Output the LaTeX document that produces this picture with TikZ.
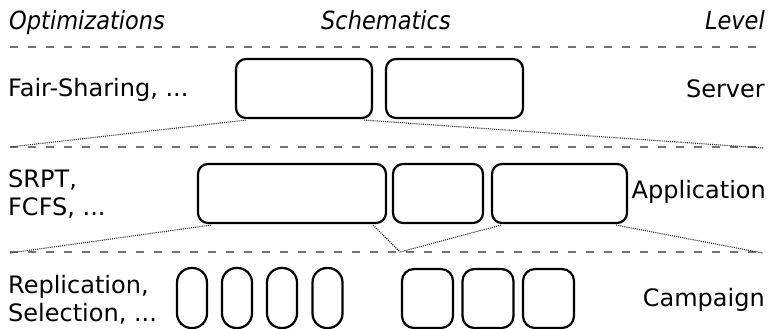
\documentclass[tikz,border=0pt]{standalone}
\usepackage{fontspec}
\setmainfont{DejaVu Sans}
\newfontfamily\hdrfont[FakeStretch=0.9]{DejaVu Sans}
\begin{document}
\begin{tikzpicture}[x=1pt,y=-1pt,
  box/.style={draw=black,line width=2.2pt,rounded corners=10pt,inner sep=0pt,minimum height=59pt},
  pill/.style={draw=black,line width=2.2pt,rounded corners=14.5pt,inner sep=0pt,minimum width=30pt,minimum height=60pt},
  sq/.style={draw=black,line width=2.2pt,rounded corners=12pt,inner sep=0pt,minimum width=51pt,minimum height=59pt},
  sep/.style={draw=black!55,line width=1.4pt,dash pattern=on 8pt off 10pt},
  link/.style={draw=black!80,line width=1.1pt,densely dotted},
  lbl/.style={inner sep=0pt,font=\fontsize{24}{28}\selectfont},
  hdr/.style={inner sep=0pt,font=\hdrfont\fontsize{25}{28}\selectfont\itshape}]
\useasboundingbox (0,0) rectangle (769,329);
% headers
\node[hdr,anchor=base west] (h1) at (9,30) {Optimizations};
\node[hdr,anchor=base] (h2) at (386,30) {Schematics};
\node[hdr,anchor=base east] (h3) at (765,30) {Level};
% separators
\coordinate (d1l) at (10,47); \coordinate (d1r) at (763,47);
\coordinate (d2l) at (10,147); \coordinate (d2r) at (763,147);
\coordinate (d3l) at (10,252); \coordinate (d3r) at (763,252);
\draw[sep] (d1l) -- (d1r);
\draw[sep] (d2l) -- (d2r);
\draw[sep] (d3l) -- (d3r);
% server level
\node[lbl,anchor=base west] (o1) at (8,96) {Fair-Sharing, ...};
\node[lbl,anchor=base east] (l1) at (765,97) {Server};
\node[box,minimum width=136pt] (s1) at (304,88.5) {};
\node[box,minimum width=137pt] (s2) at (454.5,88.5) {};
% application level
\node[lbl,anchor=base west] (o2a) at (8,187) {SRPT,};
\node[lbl,anchor=base west] (o2b) at (8,215) {FCFS, ...};
\node[lbl,anchor=base east] (l2) at (766,198) {Application};
\node[box,minimum width=188pt] (a1) at (292,193.5) {};
\node[box,minimum width=90pt] (a2) at (438,193.5) {};
\node[box,minimum width=135pt] (a3) at (559.5,193.5) {};
% campaign level
\node[lbl,anchor=base west] (o3a) at (8,293) {Replication,};
\node[lbl,anchor=base west] (o3b) at (8,321) {Selection, ...};
\node[lbl,anchor=base east] (l3) at (765,306) {Campaign};
\node[pill] (c1) at (192,298) {};
\node[pill] (c2) at (237,298) {};
\node[pill] (c3) at (282,298) {};
\node[pill] (c4) at (327.5,298) {};
\node[sq] (q1) at (427.5,298.5) {};
\node[sq] (q2) at (488,298.5) {};
\node[sq] (q3) at (548.5,298.5) {};
% zoom links
\coordinate (z1l) at (10,147); \coordinate (z1r) at (763,148);
\draw[link] ([xshift=11pt,yshift=-1pt]s1.south west) -- (z1l);
\draw[link] ([xshift=-9pt,yshift=-1pt]s1.south east) -- (z1r);
\coordinate (z2l) at (10,253); \coordinate (z2m) at (400,252); \coordinate (z2r) at (763,253);
\draw[link] ([xshift=14pt,yshift=-1pt]a1.south west) -- (z2l);
\draw[link] ([xshift=-14pt,yshift=-1pt]a1.south east) -- (z2m);
\draw[link] ([xshift=10pt,yshift=-1pt]a3.south west) -- (z2m);
\draw[link] ([xshift=-12pt,yshift=-1pt]a3.south east) -- (z2r);
\end{tikzpicture}
\end{document}
